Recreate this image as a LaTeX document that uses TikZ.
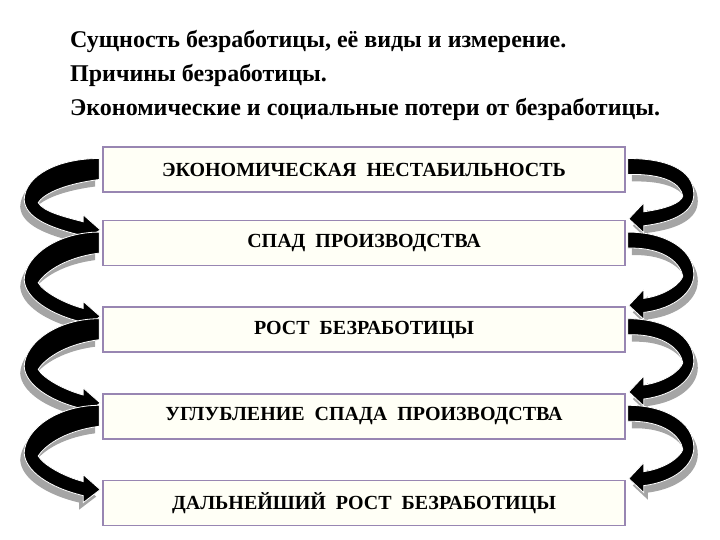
\documentclass[tikz,border=0pt]{standalone}
\usepackage{fontspec}
\setmainfont{Liberation Serif}
\usetikzlibrary{positioning,calc}
\definecolor{framelilac}{RGB}{152,134,178}
\definecolor{paper}{RGB}{255,255,246}
\definecolor{loopgrey}{RGB}{165,165,165}
\tikzstyle{stagebox} = [draw=framelilac, fill=paper, line width=1.6pt,
    rectangle, minimum width=522pt, minimum height=45pt, inner sep=0pt,
    font=\bfseries\fontsize{20}{23}\selectfont]
\tikzstyle{topic} = [anchor=base west, inner sep=0pt,
    font=\bfseries\fontsize{24}{28}\selectfont]

\newcommand{\leftloop}[2]{%
    \foreach \sx/\sy/\col/\edge in {-4/-7/loopgrey/none, 0/0/black/white}{
        \path[fill=\col, draw=\edge, line width=0.8pt]
            let \p1=(#1.west), \p2=(#2.north west),
                \n1={\y2-10}, \n2={(\y1+\y2-10)/2} in
            ({\x1-3+\sx},{\y1+11+\sy}) .. controls ({\x1-43+\sx},{\y1+11+\sy}) and ({\x1-77+\sx},{\n2+25+\sy}) .. ({\x1-78+\sx},{\n2+\sy})
            .. controls ({\x1-77+\sx},{\n2-18+\sy}) and ({\x1-53+\sx},{\n1+2+\sy}) .. ({\x1-19+\sx},{\n1-6+\sy})
            -- ({\x1-19+\sx},{\n1-13+\sy}) -- ({\x1-2+\sx},{\n1+\sy}) -- ({\x1-19+\sx},{\n1+15+\sy}) -- ({\x1-19+\sx},{\n1+8+\sy})
            .. controls ({\x1-38+\sx},{\n1+13+\sy}) and ({\x1-59+\sx},{\n2-12+\sy}) .. ({\x1-64+\sx},{\n2-3+\sy})
            .. controls ({\x1-59+\sx},{\n2+5+\sy}) and ({\x1-41+\sx},{\y1-15+\sy}) .. ({\x1-3+\sx},{\y1-10+\sy}) -- cycle;
    }
}
\newcommand{\rightloop}[2]{%
    \foreach \sx/\sy/\col/\edge in {4/-7/loopgrey/none, 0/0/black/white}{
        \path[fill=\col, draw=\edge, line width=0.8pt]
            let \p1=(#1.east), \p2=(#2.north east),
                \n1={\y2+1}, \n2={(\y1+\y2+1)/2} in
            ({\x1+2+\sx},{\y1+11+\sy}) .. controls ({\x1+40+\sx},{\y1+11+\sy}) and ({\x1+68+\sx},{\n2+25+\sy}) .. ({\x1+68+\sx},{\n2+\sy})
            .. controls ({\x1+68+\sx},{\n2-17+\sy}) and ({\x1+50+\sx},{\n1-3+\sy}) .. ({\x1+18+\sx},{\n1-7+\sy})
            -- ({\x1+18+\sx},{\n1-14+\sy}) -- ({\x1+3+\sx},{\n1+\sy}) -- ({\x1+18+\sx},{\n1+16+\sy}) -- ({\x1+18+\sx},{\n1+7+\sy})
            .. controls ({\x1+40+\sx},{\n1+10+\sy}) and ({\x1+55+\sx},{\n2-9+\sy}) .. ({\x1+57+\sx},{\n2-2+\sy})
            .. controls ({\x1+55+\sx},{\n2+10+\sy}) and ({\x1+40+\sx},{\y1-4+\sy}) .. ({\x1+2+\sx},{\y1-5+\sy}) -- cycle;
    }
}

\begin{document}
\begin{tikzpicture}[x=1pt, y=1pt]
                \useasboundingbox (0,0) rectangle (720,540);
                \node [topic] (t1) at (70,492) {Сущность безработицы, её виды и измерение.};
                \node [topic] (t2) at (70,458) {Причины безработицы.};
                \node [topic] (t3) at (70,424) {Экономические и социальные потери от безработицы.};

                \node [stagebox] (b1) at (364,370.5) {ЭКОНОМИЧЕСКАЯ\ \ НЕСТАБИЛЬНОСТЬ};
                \node [stagebox, below=27pt of b1] (b2) {СПАД\ \ ПРОИЗВОДСТВА};
                \node [stagebox, below=40pt of b2] (b3) {РОСТ\ \ БЕЗРАБОТИЦЫ};
                \node [stagebox, below=40pt of b3] (b4) {УГЛУБЛЕНИЕ\ \ СПАДА\ \ ПРОИЗВОДСТВА};
                \node [stagebox, below=40pt of b4] (b5) {ДАЛЬНЕЙШИЙ\ \ РОСТ\ \ БЕЗРАБОТИЦЫ};

                \leftloop{b1}{b2}
                \leftloop{b2}{b3}
                \leftloop{b3}{b4}
                \leftloop{b4}{b5}
                \rightloop{b1}{b2}
                \rightloop{b2}{b3}
                \rightloop{b3}{b4}
                \rightloop{b4}{b5}
\end{tikzpicture}
\end{document}
